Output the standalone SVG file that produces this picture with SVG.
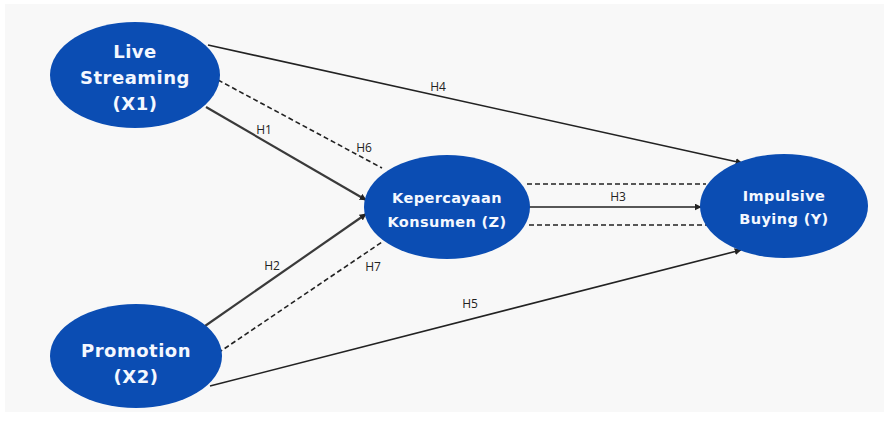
<svg xmlns="http://www.w3.org/2000/svg" width="884" height="423" viewBox="0 0 884 423">
<style>
.node{fill:#0b4db3;}
.nt{fill:#f4f8ff;font-family:"DejaVu Sans","Open Sans",sans-serif;font-weight:bold;text-anchor:middle;}
.big{font-size:18px;letter-spacing:0.5px;}
.sm{font-size:14.5px;letter-spacing:0.4px;}
.ln{stroke:#222;stroke-width:1.6;fill:none;}
.thk{stroke:#3a3a3a;stroke-width:2.2;}
.ds{stroke-dasharray:5,3;}
.lb{font-family:"Open Sans","DejaVu Sans",sans-serif;font-size:12px;fill:#222;text-anchor:middle;}
</style>
<defs>
<marker id="arr" viewBox="0 0 10 10" refX="9" refY="5" markerWidth="7" markerHeight="7" markerUnits="userSpaceOnUse" orient="auto">
<path d="M0,0 L10,5 L0,10 Z" fill="#222"/>
</marker>
</defs>
<rect x="0" y="0" width="884" height="423" fill="#ffffff"/>
<rect x="5" y="4" width="879" height="408" fill="#f8f8f8"/>
<g id="connectors">
<line class="ln" x1="208" y1="45" x2="742" y2="163" marker-end="url(#arr)"/>
<line class="ln ds" x1="218" y1="80" x2="382" y2="168"/>
<line class="ln thk" x1="206" y1="107" x2="366" y2="200" marker-end="url(#arr)"/>
<line class="ln thk" x1="205" y1="326" x2="366" y2="214" marker-end="url(#arr)"/>
<line class="ln ds" x1="218" y1="353" x2="382" y2="242"/>
<line class="ln" x1="210" y1="386" x2="741" y2="250" marker-end="url(#arr)"/>
<line class="ln" x1="508" y1="207" x2="701" y2="207" marker-end="url(#arr)"/>
<line class="ln ds" x1="527" y1="184" x2="706" y2="184"/>
<line class="ln ds" x1="529" y1="225" x2="708" y2="225"/>
<text class="lb" x="438" y="91">H4</text>
<text class="lb" x="364" y="152">H6</text>
<text class="lb" x="264" y="134">H1</text>
<text class="lb" x="272" y="270">H2</text>
<text class="lb" x="373" y="271">H7</text>
<text class="lb" x="470" y="308">H5</text>
<text class="lb" x="618" y="201">H3</text>
</g>
<g id="live-streaming">
<ellipse class="node" cx="135" cy="75" rx="85" ry="53"/>
<text class="nt big" x="135" y="58">Live</text>
<text class="nt big" x="135" y="84">Streaming</text>
<text class="nt big" x="135" y="110">(X1)</text>
</g>
<g id="promotion">
<ellipse class="node" cx="136" cy="356" rx="86" ry="52"/>
<text class="nt big" x="136" y="357">Promotion</text>
<text class="nt big" x="136" y="383">(X2)</text>
</g>
<g id="kepercayaan">
<ellipse class="node" cx="447" cy="207" rx="83" ry="52"/>
<text class="nt sm" x="447" y="203">Kepercayaan</text>
<text class="nt sm" x="447" y="227">Konsumen (Z)</text>
</g>
<g id="impulsive">
<ellipse class="node" cx="784" cy="206" rx="84" ry="52"/>
<text class="nt sm" x="784" y="201">Impulsive</text>
<text class="nt sm" x="784" y="224">Buying (Y)</text>
</g>
</svg>
